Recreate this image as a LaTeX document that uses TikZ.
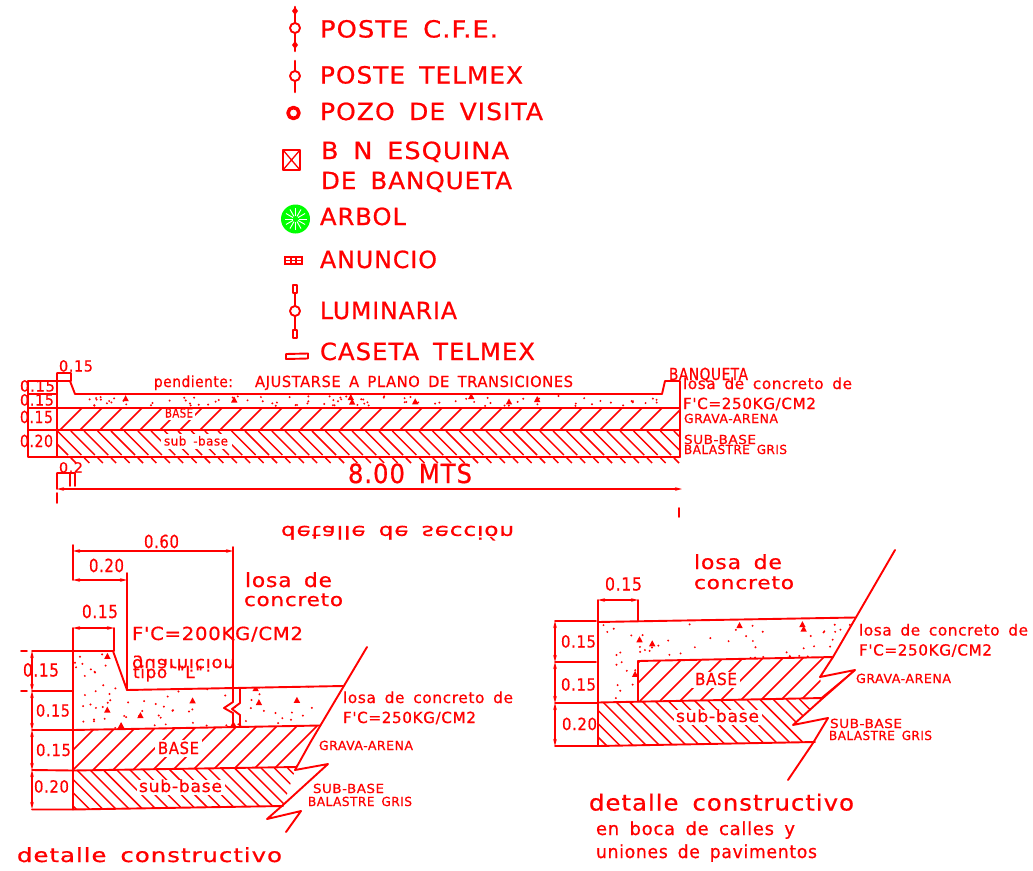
\documentclass[tikz,border=0pt]{standalone}
\usepackage{fontspec}
\usepackage{graphicx}
\usetikzlibrary{arrows.meta}
\newfontfamily\cadf[LetterSpace=4,WordSpace=1.6,FakeBold=0.7]{DejaVu Sans}
\definecolor{cadred}{RGB}{255,0,0}
\definecolor{cadgreen}{RGB}{0,255,0}
\tikzset{
  ln/.style={draw=cadred,line width=1.9pt,line cap=round,line join=round},
  thin ln/.style={draw=cadred,line width=1.3pt,line cap=round,line join=round},
  hatch/.style={draw=cadred,line width=1.45pt},
  dim/.style={draw=cadred,line width=1.6pt,{Stealth[length=7pt,width=3.6pt]}-{Stealth[length=7pt,width=3.6pt]}},
  cad/.style={text=cadred,inner sep=0pt,outer sep=0pt}
}
% name, left, right, baseline, height, text
\newcommand\lab[6]{\pgfmathsetmacro\fs{#5/0.72}\node[cad,anchor=base west] (#1) at (#2,#4) {\cadf\fontsize{\fs pt}{\fs pt}\selectfont\resizebox{\the\dimexpr#3pt-#2pt\relax}{\height}{#6}};}
\newcommand\flab[6]{\pgfmathsetmacro\fs{#5/0.72}\node[cad,anchor=base west] (#1) at (#2,#4) {\cadf\fontsize{\fs pt}{\fs pt}\selectfont\scalebox{1}[-1]{\resizebox{\the\dimexpr#3pt-#2pt\relax}{\height}{#6}}};}
% x0,x1,y0,y1,dots,triangles,seed
\newcommand\specks[7]{\pgfmathsetseed{#7}
  \foreach \i in {1,...,#5}{\pgfmathsetmacro\sx{#1+rnd*(#2-#1)}\pgfmathsetmacro\sy{#3+rnd*(#4-#3)}\fill[cadred] (\sx,\sy) circle (1.1pt);}
  \foreach \i in {1,...,#6}{\pgfmathsetmacro\sx{#1+rnd*(#2-#1)}\pgfmathsetmacro\sy{#3+rnd*(#4-#3)}\fill[cadred] (\sx-3.2,\sy+2.5) -- (\sx+3.2,\sy+2.5) -- (\sx,\sy-3.5) -- cycle;}}
\begin{document}
\begin{tikzpicture}[x=1pt,y=-1pt]
\useasboundingbox (0,0) rectangle (1033,870);
\fill[white] (0,0) rectangle (1033,870);

% ---------- legend symbols
\draw[ln,line width=2.6pt] (295,7) -- (295,23) (295,33) -- (295,51);
\draw[ln] (295,28) circle (5pt);
\fill[cadred] (295,7) -- (298,11) -- (295,15) -- (292,11) -- cycle;
\fill[cadred] (295,41) -- (298,45) -- (295,49) -- (292,45) -- cycle;
\draw[ln,line width=2.6pt] (295,61) -- (295,71) (295,81) -- (295,92);
\draw[ln] (295,76) circle (5pt);
\draw[ln,line width=3.6pt] (293.5,113) circle (5.5pt);
\draw[ln] (283,150) rectangle (300,170);
\draw[thin ln] (283,150) -- (300,170) (300,150) -- (283,170);
\fill[cadgreen] (295.5,219) circle (14.5pt);
\foreach \a in {0,30,...,330}{\draw[white,line width=0.9pt] (295.5,219) ++(\a:3pt) -- ++(\a:8pt);}
\draw[cadred,line width=1.7pt] (285,257) rectangle (302,264) (285,260.5) -- (302,260.5) (291,257) -- (291,264) (296,257) -- (296,264);
\draw[ln] (293,285) rectangle (297,293) (293,330) rectangle (297,338);
\draw[ln] (295,293) -- (295,306) (295,316) -- (295,330);
\draw[ln] (295,311) circle (5pt);
\draw[ln] (286,354) -- (308,353.5) -- (308,358.5) -- (286,359) -- cycle;

\lab{l1}{320}{498}{37.5}{17}{POSTE  C.F.E.}
\lab{l2}{320}{523}{83.5}{17}{POSTE  TELMEX}
\lab{l3}{320}{543}{120}{17}{POZO  DE  VISITA}
\lab{l4a}{321}{509}{159}{17}{B  N  ESQUINA}
\lab{l4b}{321}{512}{189}{17}{DE  BANQUETA}
\lab{l5}{320}{406}{225}{17}{ARBOL}
\lab{l6}{320}{437}{268}{17}{ANUNCIO}
\lab{l7}{320}{457}{319}{17}{LUMINARIA}
\lab{l8}{320}{535}{360}{17}{CASETA  TELMEX}

% ---------- road section
\begin{scope}
\clip (57,430) rectangle (680,463);
\foreach \x in {44,57.4,...,680}{\draw[hatch,dash pattern=on 34pt off 4pt on 9pt off 3pt] (\x,431) -- (\x+32,463);}
\end{scope}
\begin{scope}
\clip (57,408) rectangle (680,430);
\foreach \x in {60,80,...,660}{\draw[hatch] (\x,430) -- (\x+22,408);}
\end{scope}
\fill[white] (163,409) rectangle (195,420);
\fill[white] (161,434) rectangle (232,449);
\begin{scope}
\clip (60,395) rectangle (680,407.5);
\specks{78}{678}{396}{406}{90}{8}{41}
\end{scope}
\draw[ln] (28,381) -- (57,381) -- (70,381) -- (75,394) -- (662,394) -- (665,381) -- (680,381) -- (680,457);
\draw[ln] (57,373) -- (57,457) (71,373) -- (71,381) (57,373) -- (71,373);
\draw[ln] (28,381) -- (28,457) -- (680,457);
\draw[ln] (28,394) -- (57,394);
\draw[ln] (28,408) -- (680,408);
\draw[ln] (28,430) -- (680,430);
\draw[ln] (57,473) -- (75,473) (57,473) -- (57,489) (70,473) -- (70,486) (75,473) -- (75,486);
\draw[dim] (57,489) -- (682,489);
\draw[ln] (57,493) -- (57,503) (679,508) -- (679,517);

\lab{s1}{59}{93}{371.5}{11}{0.15}
\lab{s2}{20}{55}{391.5}{11}{0.15}
\lab{s3}{20}{54}{405.5}{11}{0.15}
\lab{s4}{20}{53}{423}{12}{0.15}
\lab{s5}{20}{53}{447}{12}{0.20}
\lab{s6}{59}{83}{472.5}{10}{0.2}
\lab{s7}{348}{472}{483}{19}{8.00  MTS}
\lab{s8}{154}{233}{387}{11}{pendiente:}
\lab{s9}{255}{573}{387}{11}{AJUSTARSE  A  PLANO  DE  TRANSICIONES}
\lab{s10}{165}{193}{417.5}{9}{BASE}
\lab{s11}{164}{228}{445.5}{9}{sub  -base}
\lab{s12}{669}{748}{380}{12}{BANQUETA}
\lab{s13}{683}{852}{389}{11}{losa  de  concreto  de}
\lab{s14}{683}{816}{409}{11}{F'C=250KG/CM2}
\lab{s15}{684}{778}{423}{9}{GRAVA-ARENA}
\lab{s16}{684}{756}{444}{9}{SUB-BASE}
\lab{s17}{684}{787}{454}{9}{BALASTRE  GRIS}
\flab{s18}{281}{514}{526}{13}{detalle  de  sección}

% ---------- detail 1
\begin{scope}
\clip (73,651) -- (113,651) -- (127,690) -- (343,686) -- (320,726) -- (73,730) -- cycle;
\specks{75}{335}{653}{728}{110}{18}{7}
\end{scope}
\begin{scope}
\clip (73,730) -- (320,725.5) -- (296,767) -- (73,770.5) -- cycle;
\foreach \x in {33,53,...,313}{\draw[hatch] (\x,770) -- (\x+44,726);}
\end{scope}
\begin{scope}
\clip (73,770.5) -- (296,767) -- (283,806) -- (73,809.5) -- cycle;
\foreach \x in {35,48.3,...,300}{\draw[hatch] (\x,768) -- (\x+42,810);}
\end{scope}
\fill[white] (155,740) rectangle (202,757);
\fill[white] (137,780) rectangle (225,795);
\draw[ln] (73,545) -- (73,580) (73,628) -- (73,809.5);
\draw[ln] (73,651) -- (113,651) -- (127,690) -- (343,686);
\draw[ln] (73,730) -- (320,725.5);
\draw[ln] (73,770.5) -- (296,767);
\draw[ln] (73,809.5) -- (283,806);
\draw[ln] (127,573) -- (127,690) (233,547) -- (233,702) -- (224,708) -- (233,713) -- (233,727);
\draw[ln] (240,688) -- (240,703) -- (232,709) -- (240,715) -- (240,727);
\draw[dim] (73,551) -- (233,551);
\draw[dim] (73,580) -- (127,580);
\draw[dim] (73,628) -- (114,628);
\draw[ln] (114,628) -- (114,651);
\draw[dim] (32,651) -- (32,691);
\draw[dim] (32,691) -- (32,730);
\draw[dim] (32,730) -- (32,770);
\draw[dim] (32,770) -- (32,809);
\draw[ln] (32,651) -- (73,651) (32,691) -- (73,691) (32,730) -- (73,730) (32,770) -- (73,770.5) (32,809.5) -- (73,809.5);
\draw[ln] (21,651) -- (27,651) (21,691) -- (27,691);
\draw[ln] (367,647) -- (310,743) -- (295,770) -- (328,764) -- (283,805) -- (267,819) -- (301,811) -- (286,832);

\lab{a1}{144}{179}{548}{13}{0.60}
\lab{a2}{89}{124}{572}{13}{0.20}
\lab{a3}{82}{118}{618}{13}{0.15}
\lab{a4}{23}{59}{676.5}{13}{0.15}
\lab{a5}{36}{70}{716.5}{12}{0.15}
\lab{a6}{36}{71}{756}{12}{0.15}
\lab{a7}{34}{69}{792.5}{12}{0.20}
\lab{a8}{245}{332}{587}{14}{losa  de}
\lab{a9}{244}{343}{606}{13}{concreto}
\lab{a10}{132}{303}{640}{13}{F'C=200KG/CM2}
\flab{a11}{132}{235}{659}{12}{guarnicion}
\lab{a12}{133}{203}{678}{12}{tipo  "L"}
\lab{a13}{343}{513}{703}{11}{losa  de  concreto  de}
\lab{a14}{343}{476}{723}{11}{F'C=250KG/CM2}
\lab{a15}{319}{413}{750}{9}{GRAVA-ARENA}
\lab{a16}{313}{384}{793}{9}{SUB-BASE}
\lab{a17}{308}{412}{806}{9}{BALASTRE  GRIS}
\lab{a18}{158}{199}{754}{12}{BASE}
\lab{a19}{139}{222}{792}{12}{sub-base}
\lab{a20}{17}{282}{862}{14}{detalle  constructivo}

% ---------- detail 2
\begin{scope}
\clip (598,622) -- (855,617.5) -- (833,657) -- (638,661) -- (638,701.5) -- (598,702.5) -- cycle;
\specks{600}{850}{624}{700}{90}{14}{19}
\end{scope}
\begin{scope}
\clip (638,661) -- (833,657) -- (820,677) -- (823,698) -- (638,702) -- cycle;
\foreach \x in {600,620,...,820}{\draw[hatch] (\x,701) -- (\x+44,657);}
\end{scope}
\begin{scope}
\clip (598,702.5) -- (823,698) -- (793,725) -- (815,742) -- (598,746) -- cycle;
\foreach \x in {560,573.3,...,810}{\draw[hatch] (\x,699) -- (\x+48,747);}
\end{scope}
\fill[white] (692,672) rectangle (740,688);
\fill[white] (674,710) rectangle (762,725);
\draw[ln] (598,600) -- (598,746);
\draw[ln] (598,622) -- (855,617.5);
\draw[ln] (638,661) -- (833,657);
\draw[ln] (638,661) -- (638,701.5);
\draw[ln] (598,702.5) -- (823,698);
\draw[ln] (598,746) -- (815,742);
\draw[dim] (598,600) -- (638,600);
\draw[ln] (638,600) -- (638,621);
\draw[dim] (555,621) -- (555,662);
\draw[dim] (555,662) -- (555,703);
\draw[dim] (555,703) -- (555,746);
\draw[ln] (555,621) -- (596,621) (555,662) -- (596,662) (555,703) -- (598,703) (555,746) -- (598,746);
\draw[ln] (895,550) -- (833,657) -- (820,677) -- (855,670) -- (823,698) -- (793,725) -- (828,718) -- (813,743) -- (788,780);
\draw[thin ln] (855,670) -- (820,699);

\lab{b1}{694}{782}{569}{14}{losa  de}
\lab{b2}{694}{794}{589}{13}{concreto}
\lab{b3}{605}{642}{590.5}{13}{0.15}
\lab{b4}{561}{596}{647.5}{12}{0.15}
\lab{b5}{561}{596}{690.5}{12}{0.15}
\lab{b6}{562}{597}{730}{12}{0.20}
\lab{b7}{695}{737}{685}{12}{BASE}
\lab{b8}{676}{759}{722}{12}{sub-base}
\lab{b9}{859}{1028}{635.5}{11}{losa  de  concreto  de}
\lab{b10}{859}{992}{655.5}{11}{F'C=250KG/CM2}
\lab{b11}{856}{951}{683}{9}{GRAVA-ARENA}
\lab{b12}{830}{902}{728}{9}{SUB-BASE}
\lab{b13}{829}{932}{740}{9}{BALASTRE  GRIS}
\lab{b14}{589}{854}{810.5}{16}{detalle  constructivo}
\lab{b15}{596}{795}{835}{13}{en  boca  de  calles  y}
\lab{b16}{596}{817}{858}{13}{uniones  de  pavimentos}
\end{tikzpicture}
\end{document}
